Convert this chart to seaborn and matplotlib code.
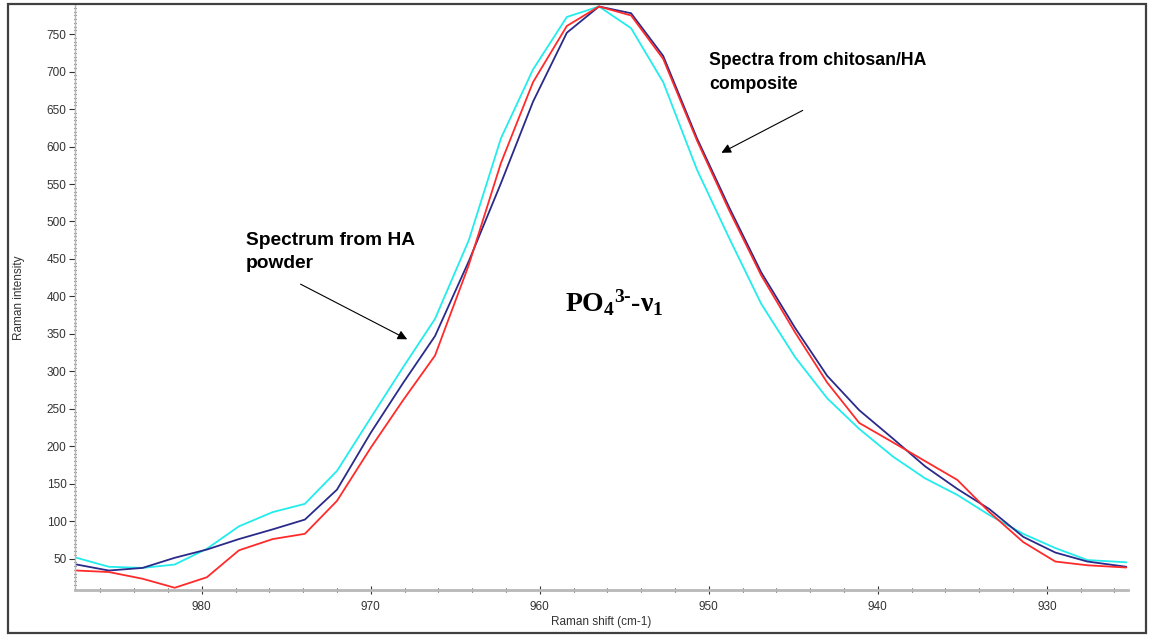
import numpy as np
import pandas as pd
import matplotlib
matplotlib.use('Agg')
import matplotlib.pyplot as plt
from matplotlib.ticker import MultipleLocator
from matplotlib.patches import Rectangle
import seaborn as sns

# Raman shift (cm-1), shared by the three spectra
raman_shift = [987.4, 985.5, 983.5, 981.6, 979.7, 977.8, 975.8, 973.9, 972.0, 970.0,
               968.1, 966.2, 964.2, 962.3, 960.4, 958.4, 956.5, 954.6, 952.7, 950.7,
               948.8, 946.9, 944.9, 943.0, 941.1, 939.1, 937.2, 935.3, 933.4, 931.4,
               929.5, 927.6, 925.3]

# HA powder (cyan)
ha_powder = [51, 39, 37.5, 42, 63, 93, 112, 123, 167, 238,
             305, 370, 475, 611, 703, 773, 787, 758, 686, 569,
             478, 390, 319, 264, 223, 186, 157, 135, 108, 83,
             64, 48, 45]

# chitosan/HA composite, spectrum 1 (navy)
composite_1 = [42, 34, 37.5, 51, 62, 76, 89, 102, 142, 218,
               284, 347, 447, 551, 660, 752, 787, 778, 721, 611,
               519, 432, 358, 294, 248, 210, 173, 143, 116, 79,
               58, 46, 39]

# chitosan/HA composite, spectrum 2 (red)
composite_2 = [34, 32, 23, 11, 25, 61, 76, 83, 127, 198,
               261, 321, 442, 578, 686, 761, 787, 775, 717, 608,
               515, 428, 352, 285, 231, 205, 180, 155, 112, 72,
               46, 41, 38]

series_names = ['HA powder', 'Composite 1', 'Composite 2']
series_colors = {'HA powder': '#22ECEC', 'Composite 1': '#2A2A8A', 'Composite 2': '#FF2A2A'}

df = pd.DataFrame({
    'shift': raman_shift * 3,
    'intensity': ha_powder + composite_1 + composite_2,
    'sample': [n for n in series_names for _ in raman_shift],
})

sns.set_theme(style='white')
plt.rcParams['font.family'] = ['Liberation Sans', 'DejaVu Sans']
# bold serif for the PO4 label
plt.rcParams['mathtext.fontset'] = 'custom'
plt.rcParams['mathtext.rm'] = 'Liberation Serif:bold'
plt.rcParams['mathtext.it'] = 'Liberation Serif:bold'
plt.rcParams['mathtext.bf'] = 'Liberation Serif:bold'

fig = plt.figure(figsize=(11.49, 6.36), dpi=100)
W, H = 1149, 636
ax = fig.add_axes([75 / W, 1 - 590 / H, (1128 - 75) / W, (590 - 5) / H])

sns.lineplot(data=df, x='shift', y='intensity', hue='sample', hue_order=series_names,
             palette=series_colors, estimator=None, sort=False, legend=False,
             linewidth=1.3, ax=ax)

ax.set_xlim(987.5, 925.2)
ax.set_ylim(8, 789)
ax.set_xticks([980, 970, 960, 950, 940, 930])
ax.set_yticks(np.arange(50, 800, 50))
ax.xaxis.set_minor_locator(MultipleLocator(2))
ax.yaxis.set_minor_locator(MultipleLocator(5))

grey = '#333333'
ax.tick_params(axis='both', which='major', labelsize=8.5, labelcolor=grey, color=grey,
               length=4, width=0.8, pad=2)
ax.tick_params(axis='x', which='major', direction='inout', length=6, pad=5)
ax.tick_params(axis='x', which='minor', direction='inout', length=3, width=0.8, color=grey)
ax.tick_params(axis='y', which='minor', direction='inout', length=1.5, width=0.8, color=grey)
ax.tick_params(left=True, bottom=True, which='both')

for s in ['top', 'right']:
    ax.spines[s].set_visible(False)
ax.spines['left'].set_color('#b8b8b8')
ax.spines['left'].set_linewidth(1.0)
ax.spines['bottom'].set_color('#b8b8b8')
ax.spines['bottom'].set_linewidth(2.0)

ax.set_xlabel('Raman shift (cm-1)', fontsize=8.5, color=grey, labelpad=2)
ax.set_ylabel('Raman intensity', fontsize=8.5, color=grey, labelpad=16)

# annotations
ax.text(977.4, 486, 'Spectrum from HA\npowder', fontsize=13.8, fontweight='bold',
        ha='left', va='top', linespacing=1.5, color='black')
ax.annotate('', xy=(967.7, 341), xytext=(974.3, 418),
            arrowprops=dict(arrowstyle='-|>', color='black', lw=0.8, mutation_scale=14))

ax.text(950.0, 726, 'Spectra from chitosan/HA\ncomposite', fontsize=12.7, fontweight='bold',
        ha='left', va='top', linespacing=1.55, color='black')
ax.annotate('', xy=(949.4, 590), xytext=(944.3, 650),
            arrowprops=dict(arrowstyle='-|>', color='black', lw=0.8, mutation_scale=14))

ax.text(955.6, 392, r'$PO_4{}^{3\text{-}}\text{-}\nu_1$', fontsize=20,
        ha='center', va='center', color='black')

# outer frame
fig.patches.append(Rectangle((8 / W, 1 - 633 / H), (1146 - 8) / W, (633 - 4) / H,
                             transform=fig.transFigure, fill=False,
                             edgecolor='#404040', linewidth=1.6))

fig.savefig('out.png', dpi=100)
